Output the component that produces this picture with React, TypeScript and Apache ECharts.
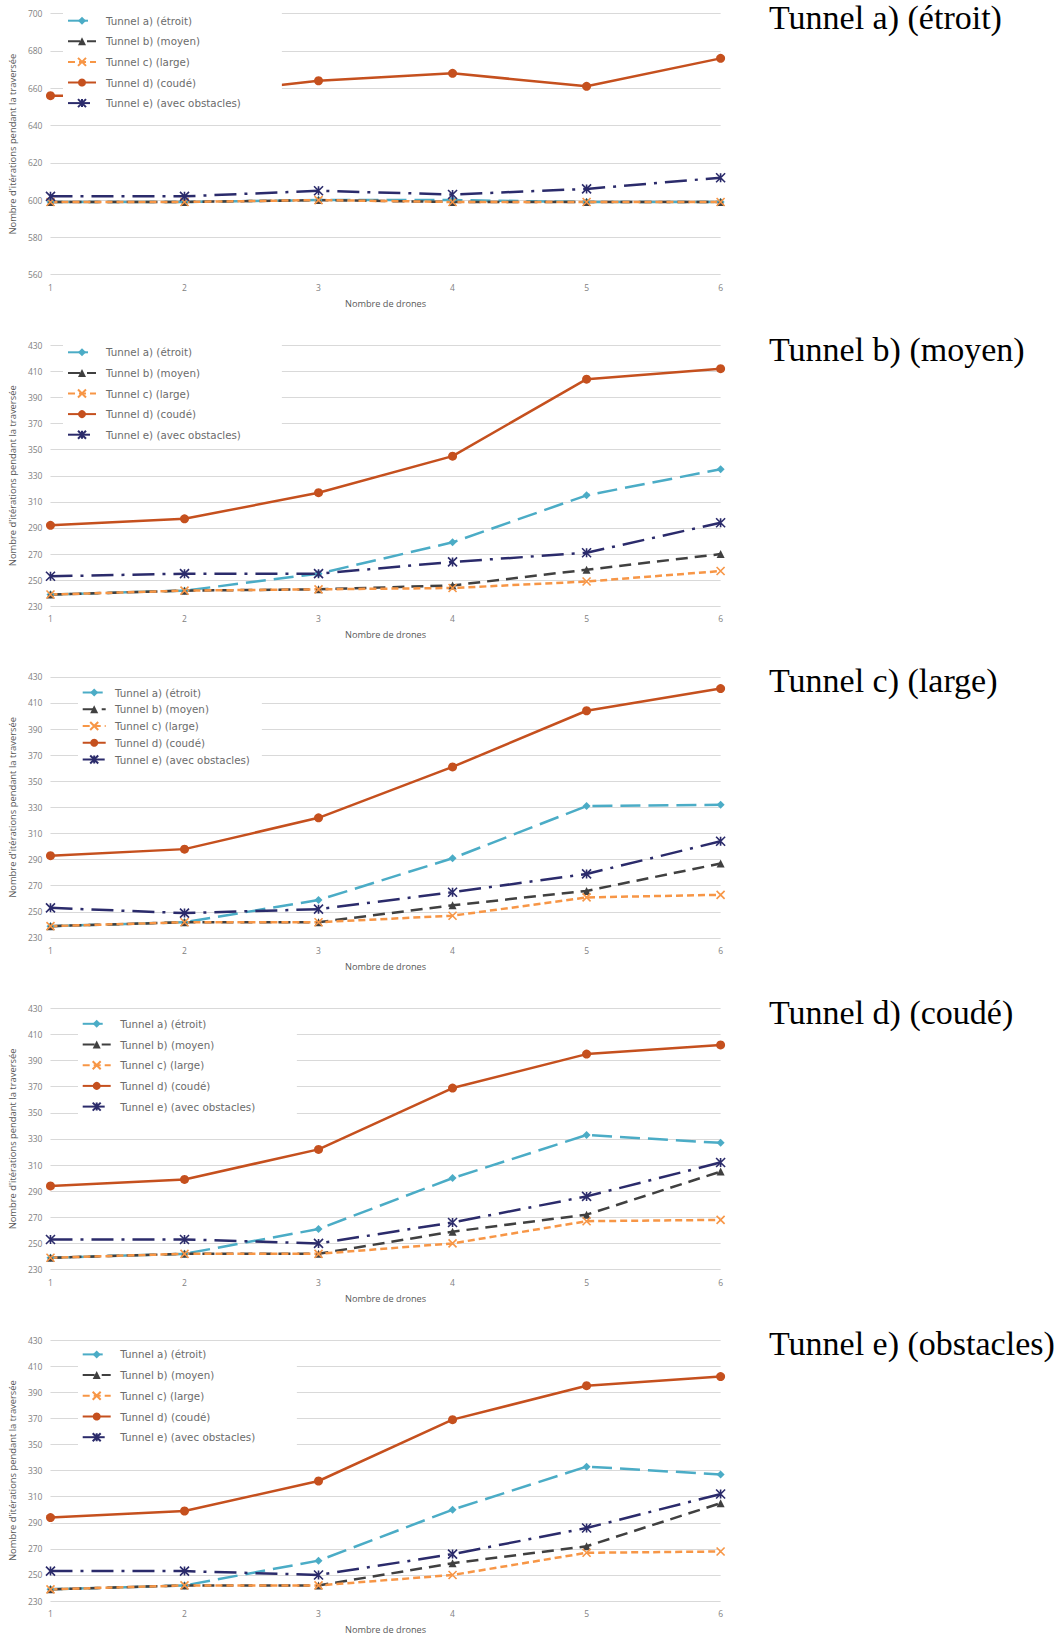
import React, { useEffect, useRef } from 'react';
import * as echarts from 'echarts';

// ---------- data ----------
const drones = ['1', '2', '3', '4', '5', '6'];
const seriesNames = [
  'Tunnel a) (étroit)',
  'Tunnel b) (moyen)',
  'Tunnel c) (large)',
  'Tunnel d) (coudé)',
  'Tunnel e) (avec obstacles)',
];
const panelTitles = [
  'Tunnel a) (étroit)',
  'Tunnel b) (moyen)',
  'Tunnel c) (large)',
  'Tunnel d) (coudé)',
  'Tunnel e) (obstacles)',
];
const yAxisName = "Nombre d'itérations pendant la traversée";
const xAxisName = 'Nombre de drones';

// Panel 1 : tunnel a) (étroit)
const etroitA = [599, 599, 600, 600, 599, 599];
const etroitB = [599, 599, 600, 599, 599, 599];
const etroitC = [599, 599, 600, 599, 599, 599];
const etroitD = [656, 656, 664, 668, 661, 676];
const etroitE = [602, 602, 605, 603, 606, 612];

// Panel 2 : tunnel b) (moyen)
const moyenA = [239, 242, 255, 279, 315, 335];
const moyenB = [239, 242, 243, 246, 258, 270];
const moyenC = [239, 242, 243, 244, 249, 257];
const moyenD = [292, 297, 317, 345, 404, 412];
const moyenE = [253, 255, 255, 264, 271, 294];

// Panel 3 : tunnel c) (large)
const largeA = [239, 242, 259, 291, 331, 332];
const largeB = [239, 242, 242, 255, 266, 287];
const largeC = [239, 242, 242, 247, 261, 263];
const largeD = [293, 298, 322, 361, 404, 421];
const largeE = [253, 249, 252, 265, 279, 304];

// Panel 4 : tunnel d) (coudé)
const coudeA = [239, 242, 261, 300, 333, 327];
const coudeB = [239, 242, 242, 259, 272, 305];
const coudeC = [239, 242, 242, 250, 267, 268];
const coudeD = [294, 299, 322, 369, 395, 402];
const coudeE = [253, 253, 250, 266, 286, 312];

// Panel 5 : tunnel e) (obstacles)
const obstA = [239, 242, 261, 300, 333, 327];
const obstB = [239, 242, 242, 259, 272, 305];
const obstC = [239, 242, 242, 250, 267, 268];
const obstD = [294, 299, 322, 369, 395, 402];
const obstE = [253, 253, 250, 266, 286, 312];

const yMins = [560, 230, 230, 230, 230];
const yMaxs = [700, 430, 430, 430, 430];
const yStep = 20;

const panelData = [
  [etroitA, etroitB, etroitC, etroitD, etroitE],
  [moyenA, moyenB, moyenC, moyenD, moyenE],
  [largeA, largeB, largeC, largeD, largeE],
  [coudeA, coudeB, coudeC, coudeD, coudeE],
  [obstA, obstB, obstC, obstD, obstE],
];

// ---------- styles / layout ----------
const COLORS = ['#4BACC6', '#404040', '#F79646', '#C5501E', '#2B2B6B'];
const DASHES: any[] = [[20, 8], [12, 7], [7, 4], 'solid', [22, 8, 3, 8]];
const SYMBOLS = [
  'diamond',
  'triangle',
  'path://M0,0L10,10M10,0L0,10',
  'circle',
  'path://M0,0L10,10M10,0L0,10M5,0L5,10',
];
const SYMBOL_SIZES = [8, 8, 8, 9, 9];
const BORDER_W = [0, 0, 1.6, 0, 1.6];

const PANEL_STEP = 331.6;
const GRID_LEFT = 47;
const GRID_TOP = 13.6;
const GRID_W = 673.6;
const GRID_H = 261.1;

const LEGENDS = [
  { left: 63, top: 6, padding: [9.7, 41, 5, 4], itemWidth: 28, itemGap: 10.6, textPad: 5 },
  { left: 63, top: 6, padding: [9.7, 41, 5, 4], itemWidth: 28, itemGap: 10.6, textPad: 5 },
  { left: 78, top: 18, padding: [6.3, 12, 2.7, 3.7], itemWidth: 23, itemGap: 6.75, textPad: 4.3 },
  { left: 78, top: 18, padding: [6, 41.7, 5, 3.7], itemWidth: 28, itemGap: 10.7, textPad: 4.6 },
  { left: 78, top: 17, padding: [6, 41.7, 5, 3.7], itemWidth: 28, itemGap: 10.7, textPad: 4.6 },
];

function buildOption() {
  const grid: any[] = [];
  const xAxis: any[] = [];
  const yAxis: any[] = [];
  const series: any[] = [];
  const legend: any[] = [];
  const graphic: any[] = [];

  for (let p = 0; p < 5; p++) {
    const off = p * PANEL_STEP;
    grid.push({ left: GRID_LEFT, top: GRID_TOP + off, width: GRID_W, height: GRID_H, containLabel: false });
    xAxis.push({
      type: 'category',
      gridIndex: p,
      data: drones,
      boundaryGap: false,
      axisLine: { show: false },
      axisTick: { show: false },
      axisLabel: { color: '#7f7f7f', fontSize: 8.5, fontFamily: 'Open Sans', margin: 8 },
      name: xAxisName,
      nameLocation: 'middle',
      nameGap: 24,
      nameTextStyle: { color: '#595959', fontSize: 9.2, fontFamily: 'Open Sans' },
    });
    yAxis.push({
      type: 'value',
      gridIndex: p,
      min: yMins[p],
      max: yMaxs[p],
      interval: yStep,
      axisLine: { show: false },
      axisTick: { show: false },
      splitLine: { lineStyle: { color: '#d9d9d9', width: 1 } },
      axisLabel: { color: '#7f7f7f', fontSize: 8.5, fontFamily: 'Open Sans', margin: 8 },
      name: yAxisName,
      nameLocation: 'middle',
      nameGap: 25,
      nameTextStyle: { color: '#595959', fontSize: 9.4, fontFamily: 'Open Sans' },
    });
    for (let s = 0; s < 5; s++) {
      series.push({
        type: 'line',
        name: seriesNames[s],
        xAxisIndex: p,
        yAxisIndex: p,
        data: panelData[p][s],
        symbol: SYMBOLS[s],
        symbolSize: SYMBOL_SIZES[s],
        showSymbol: true,
        lineStyle: { color: COLORS[s], width: 2.5, type: DASHES[s] },
        itemStyle: { color: COLORS[s], borderColor: COLORS[s], borderWidth: BORDER_W[s] },
        emphasis: { disabled: true },
      });
    }
    const L = LEGENDS[p];
    legend.push({
      orient: 'vertical',
      left: L.left,
      top: L.top + off,
      padding: L.padding,
      itemWidth: L.itemWidth,
      itemHeight: 10,
      itemGap: L.itemGap,
      backgroundColor: '#ffffff',
      data: seriesNames,
      selectedMode: false,
      textStyle: {
        color: '#6b6b6b',
        fontSize: 10.3,
        fontFamily: 'DejaVu Sans',
        lineHeight: 10,
        padding: [0, 0, 0, L.textPad],
      },
    });
    graphic.push({
      type: 'text',
      x: 769,
      y: 17.5 + off,
      style: {
        text: panelTitles[p],
        fontSize: 34,
        fontFamily: 'Liberation Serif',
        fill: '#000000',
        verticalAlign: 'middle',
        textVerticalAlign: 'middle',
      },
    });
  }

  return {
    animation: false,
    backgroundColor: '#ffffff',
    grid,
    xAxis,
    yAxis,
    series,
    legend,
    graphic,
  };
}

export default function App() {
  const ref = useRef<HTMLDivElement>(null);
  useEffect(() => {
    if (!ref.current) return;
    const chart = echarts.init(ref.current, undefined, { renderer: 'svg' });
    chart.setOption(buildOption() as any);
    return () => chart.dispose();
  }, []);
  return (
    <div
      ref={ref}
      style={{ position: 'absolute', left: 0, top: 0, width: 1059, height: 1637 }}
    />
  );
}
